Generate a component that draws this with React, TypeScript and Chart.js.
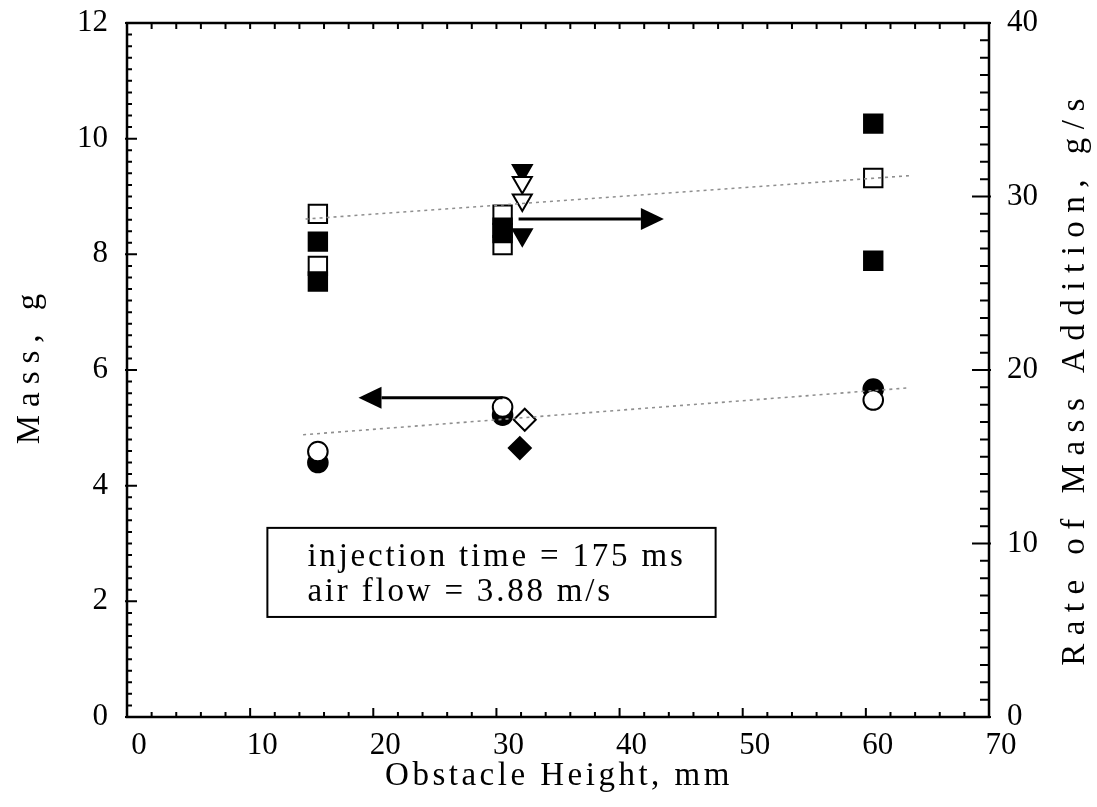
import { useEffect, useRef } from 'react';
import { Chart, registerables } from 'chart.js';

Chart.register(...registerables);

// ---- data ----
const xTickValues = [0, 10, 20, 30, 40, 50, 60, 70];
const massTickValues = [0, 2, 4, 6, 8, 10, 12];
const rateTickValues = [0, 10, 20, 30, 40];

// rate of mass addition (right axis), g/s
const rateOpenSquares = [
  { x: 15.5, y: 29.0 },
  { x: 15.5, y: 26.0 },
  { x: 30.5, y: 28.95 },
  { x: 30.5, y: 27.2 },
  { x: 60.6, y: 31.07 },
];
const rateFilledSquares = [
  { x: 15.5, y: 27.4 },
  { x: 15.5, y: 25.1 },
  { x: 30.5, y: 28.2 },
  { x: 30.5, y: 27.9 },
  { x: 60.6, y: 34.2 },
  { x: 60.6, y: 26.3 },
];
const rateFilledTriangles = [
  { x: 32.1, y: 31.5 },
  { x: 32.1, y: 27.8 },
];
const rateOpenTriangles = [
  { x: 32.1, y: 30.8 },
  { x: 32.1, y: 29.8 },
];
const rateTrend = [
  { x: 14.5, y: 28.7 },
  { x: 63.5, y: 31.2 },
];

// mass (left axis), g
const massOpenCircles = [
  { x: 15.5, y: 4.59 },
  { x: 30.5, y: 5.36 },
  { x: 60.6, y: 5.48 },
];
const massFilledCircles = [
  { x: 15.5, y: 4.4 },
  { x: 30.5, y: 5.22 },
  { x: 60.6, y: 5.67 },
];
const massOpenDiamonds = [{ x: 32.3, y: 5.14 }];
const massFilledDiamonds = [{ x: 31.9, y: 4.65 }];
const massTrend = [
  { x: 14.3, y: 4.88 },
  { x: 63.4, y: 5.69 },
];

// arrows pointing to the axis each group belongs to
const rateArrow = [
  { x: 31.8, y: 28.7 },
  { x: 43.6, y: 28.7 },
];
const massArrow = [
  { x: 30.5, y: 5.52 },
  { x: 18.8, y: 5.52 },
];

const noteLines = ['injection time = 175 ms', 'air flow = 3.88 m/s'];
const xTitle = 'Obstacle Height, mm';
const massTitle = 'Mass, g';
const rateTitle = 'Rate of Mass Addition, g/s';

// ---- styles ----
const SERIF = '"Liberation Serif", "DejaVu Serif", serif';
const TICK_FONT = { family: SERIF, size: 31 };

function drawArrow(ctx: CanvasRenderingContext2D, x1: number, y1: number, x2: number, y2: number) {
  const head = 23;
  const half = 11;
  const ang = Math.atan2(y2 - y1, x2 - x1);
  const bx = x2 - Math.cos(ang) * head;
  const by = y2 - Math.sin(ang) * head;
  ctx.save();
  ctx.strokeStyle = '#000';
  ctx.fillStyle = '#000';
  ctx.lineWidth = 3;
  ctx.beginPath();
  ctx.moveTo(x1, y1);
  ctx.lineTo(bx, by);
  ctx.stroke();
  ctx.beginPath();
  ctx.moveTo(x2, y2);
  ctx.lineTo(bx + Math.sin(ang) * half, by - Math.cos(ang) * half);
  ctx.lineTo(bx - Math.sin(ang) * half, by + Math.cos(ang) * half);
  ctx.closePath();
  ctx.fill();
  ctx.restore();
}

const framePlugin = {
  id: 'frameTicks',
  afterDatasetsDraw(chart: any) {
    const ctx: CanvasRenderingContext2D = chart.ctx;
    const { left, right, top, bottom } = chart.chartArea;
    const sx = chart.scales.x;
    const sy = chart.scales.y;
    const sy2 = chart.scales.y2;
    ctx.save();
    ctx.strokeStyle = '#000';
    ctx.lineWidth = 2.5;
    ctx.strokeRect(left, top, right - left, bottom - top);
    ctx.lineWidth = 2;
    ctx.beginPath();
    // x ticks (bottom and top), minor every 2
    for (let i = 0; i <= 35; i++) {
      const v = i * 2;
      const px = sx.getPixelForValue(v);
      const major = v % 10 === 0;
      ctx.moveTo(px, bottom);
      ctx.lineTo(px, bottom - (major ? 9 : 5));
      ctx.moveTo(px, top);
      ctx.lineTo(px, top + 6);
    }
    // left ticks, minor every 0.2
    for (let i = 0; i <= 60; i++) {
      const v = i * 0.2;
      const py = sy.getPixelForValue(v);
      const major = i % 10 === 0;
      ctx.moveTo(left - (major ? 2 : 0), py);
      ctx.lineTo(left + (major ? 10 : 5), py);
    }
    // right ticks, minor every 1
    for (let i = 0; i <= 40; i++) {
      const py = sy2.getPixelForValue(i);
      const major = i % 10 === 0;
      ctx.moveTo(right + (major ? 2 : 0), py);
      ctx.lineTo(right - (major ? 17 : 9), py);
    }
    ctx.stroke();

    // arrows
    drawArrow(
      ctx,
      sx.getPixelForValue(rateArrow[0].x), sy2.getPixelForValue(rateArrow[0].y),
      sx.getPixelForValue(rateArrow[1].x), sy2.getPixelForValue(rateArrow[1].y)
    );
    drawArrow(
      ctx,
      sx.getPixelForValue(massArrow[0].x), sy.getPixelForValue(massArrow[0].y),
      sx.getPixelForValue(massArrow[1].x), sy.getPixelForValue(massArrow[1].y)
    );

    // note box (in data coordinates of x / mass axes)
    const bx1 = sx.getPixelForValue(11.4);
    const bx2 = sx.getPixelForValue(47.8);
    const by1 = sy.getPixelForValue(3.27);
    const by2 = sy.getPixelForValue(1.73);
    ctx.fillStyle = '#fff';
    ctx.fillRect(bx1, by1, bx2 - bx1, by2 - by1);
    ctx.lineWidth = 2;
    ctx.strokeRect(bx1, by1, bx2 - bx1, by2 - by1);
    ctx.fillStyle = '#000';
    ctx.font = `33px ${SERIF}`;
    (ctx as any).letterSpacing = '2.8px';
    ctx.textAlign = 'left';
    ctx.textBaseline = 'alphabetic';
    ctx.fillText(noteLines[0], bx1 + 40, by1 + 38);
    ctx.fillText(noteLines[1], bx1 + 40, by1 + 73);

    // axis titles
    ctx.font = `33px ${SERIF}`;
    ctx.textAlign = 'center';
    ctx.textBaseline = 'middle';
    (ctx as any).letterSpacing = '3.5px';
    ctx.fillText(xTitle, (left + right) / 2 + 1, 776);
    (ctx as any).letterSpacing = '8px';
    ctx.save();
    ctx.translate(30, (top + bottom) / 2 - 5);
    ctx.rotate(-Math.PI / 2);
    ctx.fillText(massTitle, 0, 0);
    ctx.restore();
    (ctx as any).letterSpacing = '8.5px';
    ctx.save();
    ctx.translate(1075, (top + bottom) / 2 + 8);
    ctx.rotate(-Math.PI / 2);
    ctx.fillText(rateTitle, 0, 0);
    ctx.restore();
    ctx.restore();
  },
};

export default function App() {
  const ref = useRef<HTMLCanvasElement | null>(null);

  useEffect(() => {
    if (!ref.current) return;
    const marker = (style: string, filled: boolean, radius: number, yAxisID: string) => ({
      pointStyle: style,
      pointRadius: radius,
      pointHoverRadius: radius,
      pointBorderWidth: 2,
      pointBorderColor: '#000',
      pointBackgroundColor: filled ? '#000' : '#fff',
      showLine: false,
      yAxisID,
    });
    const trend = (data: any[], yAxisID: string) => ({
      type: 'line' as const,
      data,
      yAxisID,
      borderColor: '#8f8f8f',
      borderWidth: 1.6,
      borderDash: [3, 4],
      pointRadius: 0,
      showLine: true,
      fill: false,
    });
    const noVerticalPad = (width: number) => (s: any) => {
      s.width = width;
      s.paddingTop = 0;
      s.paddingBottom = 0;
    };
    const chart = new Chart(ref.current, {
      type: 'scatter',
      data: {
        datasets: [
          trend(rateTrend, 'y2'),
          trend(massTrend, 'y'),
          { data: rateFilledSquares, ...marker('rect', true, 13, 'y2') },
          { data: rateOpenSquares, ...marker('rect', false, 13, 'y2') },
          { data: rateOpenTriangles, ...marker('triangle', false, 11, 'y2'), pointRotation: 180 },
          { data: rateFilledTriangles, ...marker('triangle', true, 11, 'y2'), pointRotation: 180 },
          { data: massOpenCircles, ...marker('circle', false, 9.8, 'y') },
          { data: massFilledCircles, ...marker('circle', true, 9.8, 'y') },
          { data: massOpenDiamonds, ...marker('rectRot', false, 11, 'y') },
          { data: massFilledDiamonds, ...marker('rectRot', true, 11, 'y') },
        ] as any,
      },
      options: {
        responsive: false,
        animation: false,
        layout: { padding: { top: 23, left: 0, right: 0, bottom: 0 } },
        plugins: { legend: { display: false }, tooltip: { enabled: false } },
        scales: {
          x: {
            type: 'linear',
            position: 'bottom',
            min: 0,
            max: 70,
            afterBuildTicks: (s: any) => { s.ticks = xTickValues.map((v) => ({ value: v })); },
            ticks: { font: TICK_FONT, color: '#000', padding: 10, labelOffset: 12, maxRotation: 0 },
            grid: { display: false, drawTicks: false },
            border: { display: false },
            afterFit: (s: any) => { s.height = 90; s.paddingLeft = 0; s.paddingRight = 0; },
          },
          y: {
            type: 'linear',
            position: 'left',
            min: 0,
            max: 12,
            afterBuildTicks: (s: any) => { s.ticks = massTickValues.map((v) => ({ value: v })); },
            ticks: { font: TICK_FONT, color: '#000', padding: 19 },
            grid: { display: false, drawTicks: false },
            border: { display: false },
            afterFit: noVerticalPad(127),
          },
          y2: {
            type: 'linear',
            position: 'right',
            min: 0,
            max: 40,
            afterBuildTicks: (s: any) => { s.ticks = rateTickValues.map((v) => ({ value: v })); },
            ticks: { font: TICK_FONT, color: '#000', padding: 18 },
            grid: { display: false, drawTicks: false },
            border: { display: false },
            afterFit: noVerticalPad(108),
          },
        },
      } as any,
      plugins: [framePlugin],
    });
    return () => chart.destroy();
  }, []);

  return (
    <div style={{ position: 'fixed', left: 0, top: 0, width: 1097, height: 807, background: '#fff' }}>
      <canvas ref={ref} width={1097} height={807} style={{ display: 'block' }} />
    </div>
  );
}
